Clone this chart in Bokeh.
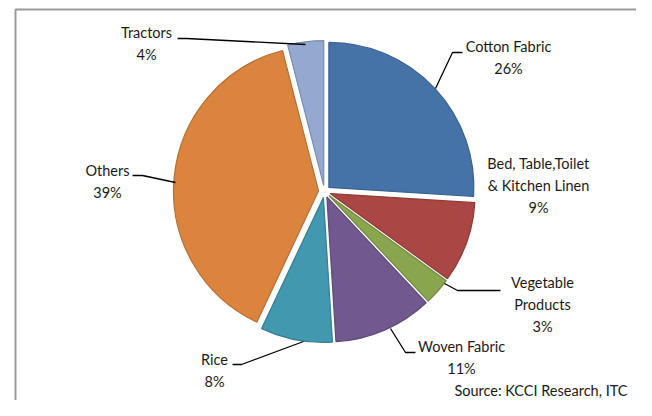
import numpy as np
from bokeh.plotting import figure
from bokeh.models import Range1d, ColumnDataSource
from bokeh.core.properties import value
from bokeh.embed import file_html
from bokeh.resources import INLINE

# ---- data ----
categories = ["Cotton Fabric", "Bed, Table,Toilet\n& Kitchen Linen", "Vegetable\nProducts",
              "Woven Fabric", "Rice", "Others", "Tractors"]
shares = [26, 9, 3, 11, 8, 39, 4]
source_note = "Source: KCCI Research, ITC"

# ---- styles ----
fill_colors = ["#4572A7", "#AA4643", "#89A54E", "#71588F", "#4198AF", "#DB843D", "#93A9CF"]
edge_colors = ["#3A6190", "#8F3A37", "#728A41", "#5E4977", "#367F92", "#B86D32", "#7B8DAD"]

W, H = 636, 400
def Y(yp):  # screen y (down) -> data y (up)
    return H - yp

p = figure(width=W, height=H, output_backend="svg", toolbar_location=None,
           x_range=Range1d(0, W), y_range=Range1d(0, H),
           min_border=0, outline_line_color=None)
p.axis.visible = False
p.grid.visible = False
p.background_fill_color = "white"
p.border_fill_color = "white"

# chart-area frame (only left & top edges fall inside the view)
p.line([15, 15, 660], [Y(420), Y(9), Y(9)], line_color="#9A9A9A", line_width=2)

# ---- pie ----
cx, cy, r, explode = 324, 191, 145, 6
vals = np.array(shares, dtype=float)
frac = vals / vals.sum()
cum_end = np.cumsum(frac)
cum_start = cum_end - frac
mid = (cum_start + cum_end) / 2 * 2 * np.pi
xs = cx + explode * np.sin(mid)
ys = Y(cy) + explode * np.cos(mid)
start_angle = np.pi / 2 - 2 * np.pi * cum_end
end_angle = np.pi / 2 - 2 * np.pi * cum_start

src = ColumnDataSource(dict(x=xs, y=ys, sa=start_angle, ea=end_angle,
                            fill=fill_colors, edge=edge_colors))
p.wedge(x="x", y="y", radius=r, start_angle="sa", end_angle="ea",
        fill_color="fill", line_color="edge", line_width=1.2, source=src)

# ---- labels ----
label_pos = [(508, 57), (538, 185), (542, 304), (461, 357), (214, 370), (107, 181), (146, 43)]
labels = [f"{c}\n{v}%" for c, v in zip(categories, shares)]
p.text(x=[lp[0] for lp in label_pos], y=[Y(lp[1]) for lp in label_pos], text=labels,
       text_align="center", text_baseline="middle", text_font=value("Lato"),
       text_font_size="14.5px", text_line_height=1.3, text_color="#1A1A1A")

# leader lines (layout)
leaders = [
    [(462, 52), (452, 52), (435, 88)],
    [(444, 283), (457, 290), (500, 290)],
    [(390, 328), (405, 352), (415, 352)],
    [(232, 364), (241, 364), (303, 341)],
    [(132, 175), (142, 175), (175, 182)],
    [(177, 38), (186, 38), (305, 44)],
]
p.multi_line(xs=[[q[0] for q in l] for l in leaders],
             ys=[[Y(q[1]) for q in l] for l in leaders],
             line_color="#000000", line_width=1.3)

p.text(x=[627], y=[Y(390)], text=[source_note], text_align="right", text_baseline="middle",
       text_font=value("Lato"), text_font_size="14.5px", text_color="#1A1A1A")

open("out.html", "w").write(file_html(p, INLINE))
